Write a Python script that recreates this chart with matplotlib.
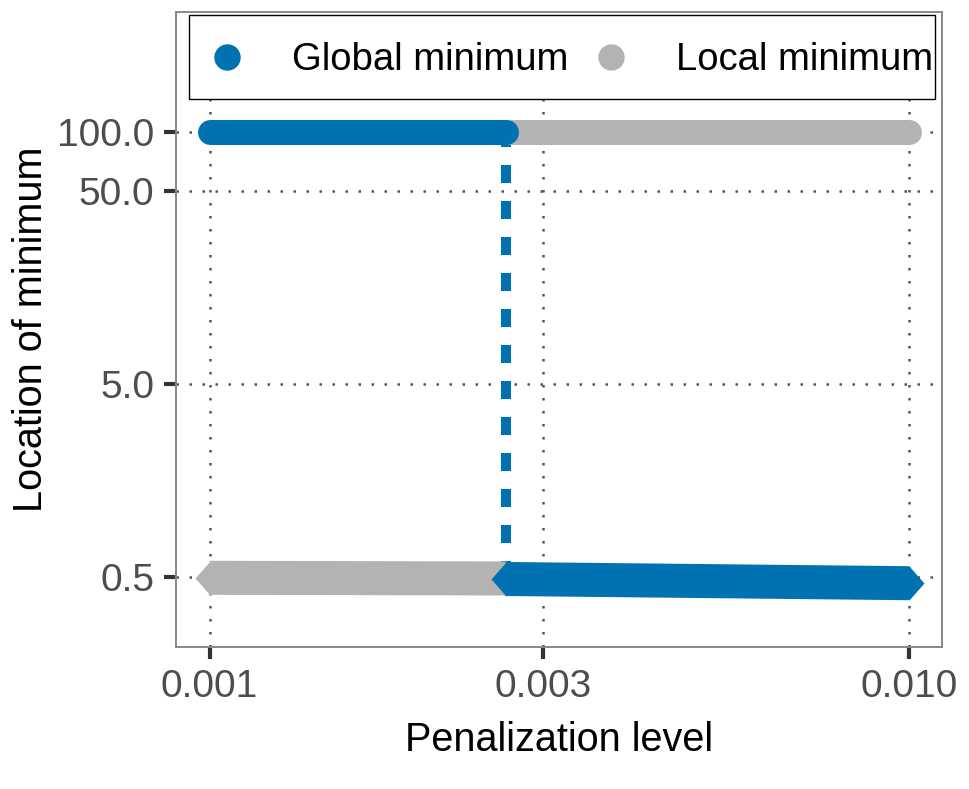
import matplotlib
matplotlib.use("Agg")
import matplotlib.pyplot as plt
from matplotlib.patches import Rectangle
from matplotlib.path import Path

# penalization levels where the two minima swap
x_low = [0.001, 0.00265]
x_high = [0.00265, 0.01]

# location of the global / local minimum on each side of the switch
glob_low = [100, 100]
loc_low = [0.497, 0.493]
glob_high = [0.490, 0.466]
loc_high = [100, 100]

x_ticks = [0.001, 0.003, 0.010]
x_labels = ["0.001", "0.003", "0.010"]
y_ticks = [0.5, 5.0, 50.0, 100.0]
y_labels = ["0.5", "5.0", "50.0", "100.0"]

legend_labels = ["Global minimum", "Local minimum"]

blue = "#0072B2"
grey = "#B3B3B3"

plt.rcParams["font.family"] = ["Liberation Sans", "DejaVu Sans"]

fig = plt.figure(figsize=(9.69, 7.89), dpi=100)
ax = fig.add_axes([0.1816, 0.18, 0.7905, 0.8048])

ax.set_xscale("log")
ax.set_yscale("log")
ax.set_xlim(10 ** -3.048, 10 ** -1.953)
ax.set_ylim(0.218, 420)

# grid
ax.set_axisbelow(True)
for v in x_ticks:
    ax.axvline(v, color="#555555", lw=1.8, dashes=(1, 4.2), zorder=0)
for v in y_ticks:
    ax.axhline(v, color="#555555", lw=1.8, dashes=(1, 4.2), zorder=0)

# diamond marker, a bit taller than wide
diamond = Path([(-0.88, 0), (0, 1), (0.88, 0), (0, -1), (-0.88, 0)],
               [Path.MOVETO, Path.LINETO, Path.LINETO, Path.LINETO, Path.CLOSEPOLY])

# grey (local minimum)
ax.plot(x_low, loc_low, color=grey, lw=24.5, solid_capstyle="butt",
        marker=diamond, markersize=24.5, markeredgewidth=0, zorder=2)
ax.plot(x_high, loc_high, color=grey, lw=18, solid_capstyle="round", zorder=2)

# vertical dashed switch line
ax.plot([x_low[1], x_low[1]], [glob_high[0], glob_low[1]], color=blue, lw=7.2,
        dashes=(1.8, 1.8), dash_capstyle="butt", zorder=1)

# blue (global minimum)
ax.plot(x_low, glob_low, color=blue, lw=18, solid_capstyle="round", zorder=3)
ax.plot(x_high, glob_high, color=blue, lw=24.5, solid_capstyle="butt",
        marker=diamond, markersize=24.5, markeredgewidth=0, zorder=3)

ax.set_xticks(x_ticks)
ax.set_xticklabels(x_labels)
ax.set_yticks(y_ticks)
ax.set_yticklabels(y_labels)
ax.minorticks_off()
ax.tick_params(axis="both", which="major", length=8.5, width=3, color="#333333",
               labelsize=28, labelcolor="#4D4D4D", pad=7)

for s in ax.spines.values():
    s.set_color("#888888")
    s.set_linewidth(1.4)

ax.set_xlabel("Penalization level", fontsize=28.5, labelpad=12)
ax.set_ylabel("Location of minimum", fontsize=28.5, labelpad=5)

# legend drawn by hand so the box matches the ggplot one inside the panel
ax.add_patch(Rectangle((0.017, 0.863), 0.974, 0.1323, transform=ax.transAxes,
                       facecolor="white", edgecolor="black", lw=1.0, zorder=5))
for mx, tx, col, lab in zip([0.0672, 0.5685], [0.1514, 0.6527], [blue, grey], legend_labels):
    ax.plot([mx], [0.929], transform=ax.transAxes, ls="none", marker="o",
            markersize=18, color=col, clip_on=False, zorder=6)
    ax.text(tx, 0.9087, lab, transform=ax.transAxes, fontsize=27.5,
            va="baseline", ha="left", color="black", zorder=6)

fig.savefig("out.png", dpi=100)
